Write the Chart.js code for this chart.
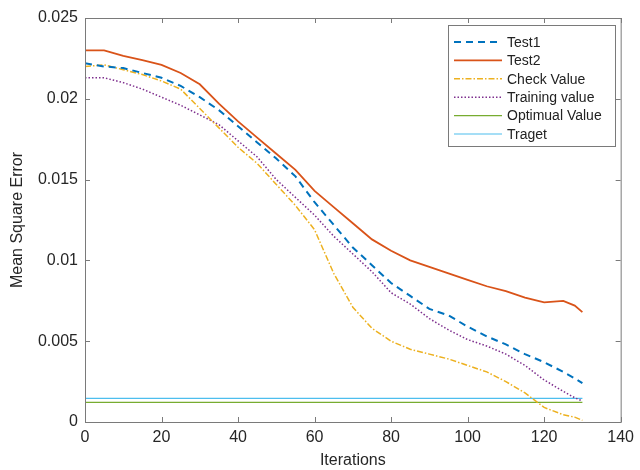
<!DOCTYPE html>
<html>
<head>
<meta charset="utf-8">
<script src="https://cdn.jsdelivr.net/npm/chart.js@4/dist/chart.umd.min.js"></script>
<style>
  html, body { margin: 0; padding: 0; background: #fff; }
  canvas { display: block; }
</style>
</head>
<body>
<canvas id="chart" width="640" height="470"></canvas>
<script>
const iterations = [0, 5, 10, 15, 20, 25, 30, 35, 40, 45, 50, 55, 60, 65, 70, 75, 80, 85, 90, 95, 100, 105, 110, 115, 120, 125, 128, 130];
const test1 = [0.0222, 0.0220, 0.0219, 0.0216, 0.0213, 0.0208, 0.0201, 0.0193, 0.0183, 0.0173, 0.0163, 0.0152, 0.0136, 0.0122, 0.0108, 0.0097, 0.0086, 0.0078, 0.0070, 0.0066, 0.0059, 0.0053, 0.0048, 0.0042, 0.0037, 0.0031, 0.0027, 0.0024];
const test2 = [0.0230, 0.0230, 0.02265, 0.0224, 0.0221, 0.0216, 0.0209, 0.0197, 0.0186, 0.0176, 0.0166, 0.0156, 0.0143, 0.0133, 0.0123, 0.0113, 0.0106, 0.0100, 0.0096, 0.0092, 0.0088, 0.0084, 0.0081, 0.0077, 0.0074, 0.0075, 0.0072, 0.0068];
const checkValue = [0.0220, 0.0221, 0.0218, 0.0215, 0.0211, 0.0206, 0.0194, 0.0182, 0.0170, 0.0160, 0.0147, 0.0134, 0.0119, 0.0092, 0.0071, 0.0058, 0.0050, 0.0045, 0.0042, 0.0039, 0.0035, 0.0031, 0.0025, 0.0018, 0.0009, 0.00045, 0.0003, 0.0001];
const trainingValue = [0.0213, 0.0213, 0.0210, 0.0206, 0.0201, 0.0196, 0.0190, 0.0184, 0.0174, 0.0164, 0.0150, 0.0139, 0.0128, 0.0115, 0.0104, 0.0093, 0.0080, 0.0073, 0.0064, 0.0057, 0.0051, 0.0047, 0.0042, 0.0035, 0.0026, 0.0019, 0.0015, 0.0013];
const flatX = [0, 130];
const optimualValue = [0.00122, 0.00122];
const target = [0.00146, 0.00146];

const xTicks = ["0", "20", "40", "60", "80", "100", "120", "140"];
const yTicks = ["0", "0.005", "0.01", "0.015", "0.02", "0.025"];

const FONT = "'Liberation Sans', Arial, sans-serif";

const toPoints = (xs, ys) => xs.map((x, i) => ({ x: x, y: ys[i] }));

// MATLAB-like box with inward ticks on all four sides
const boxPlugin = {
  id: "box",
  afterDraw(chart) {
    const { ctx, chartArea: a, scales } = chart;
    ctx.save();
    ctx.strokeStyle = "#7a7a7a";
    ctx.lineWidth = 1;
    ctx.strokeRect(a.left + 0.5, a.top + 0.5, a.right - a.left, a.bottom - a.top);
    const t = 5;
    ctx.beginPath();
    scales.x.ticks.forEach((tk) => {
      const px = Math.round(scales.x.getPixelForValue(tk.value)) + 0.5;
      ctx.moveTo(px, a.bottom); ctx.lineTo(px, a.bottom - t);
      ctx.moveTo(px, a.top); ctx.lineTo(px, a.top + t);
    });
    scales.y.ticks.forEach((tk) => {
      const py = Math.round(scales.y.getPixelForValue(tk.value)) + 0.5;
      ctx.moveTo(a.left, py); ctx.lineTo(a.left + t, py);
      ctx.moveTo(a.right, py); ctx.lineTo(a.right - t, py);
    });
    ctx.stroke();
    ctx.restore();
  },
};

// legend drawn inside the plot, top right, framed
const legendPlugin = {
  id: "boxLegend",
  afterDraw(chart) {
    const ctx = chart.ctx;
    const x0 = 448, y0 = 25, w = 167, h = 121;
    const rowH = 18.4;
    ctx.save();
    ctx.fillStyle = "#fff";
    ctx.fillRect(x0, y0, w, h);
    ctx.strokeStyle = "#7a7a7a";
    ctx.lineWidth = 1;
    ctx.strokeRect(x0 + 0.5, y0 + 0.5, w, h);
    ctx.font = "14px " + FONT;
    ctx.textBaseline = "middle";
    chart.data.datasets.forEach((ds, i) => {
      const y = y0 + 17 + i * rowH;
      ctx.strokeStyle = ds.borderColor;
      ctx.lineWidth = ds.borderWidth;
      ctx.setLineDash(ds.borderDash || []);
      ctx.beginPath();
      ctx.moveTo(x0 + 6, y);
      ctx.lineTo(x0 + 54, y);
      ctx.stroke();
      ctx.setLineDash([]);
      ctx.fillStyle = "#222";
      ctx.fillText(ds.label, x0 + 59, y + 1);
    });
    ctx.restore();
  },
};

new Chart(document.getElementById("chart"), {
  type: "line",
  data: {
    datasets: [
      { label: "Test1", data: toPoints(iterations, test1), borderColor: "#0072BD", borderWidth: 2, borderDash: [7, 5] },
      { label: "Test2", data: toPoints(iterations, test2), borderColor: "#D95319", borderWidth: 1.8 },
      { label: "Check Value", data: toPoints(iterations, checkValue), borderColor: "#EDB120", borderWidth: 1.5, borderDash: [6, 2, 1.5, 2] },
      { label: "Training value", data: toPoints(iterations, trainingValue), borderColor: "#7E2F8E", borderWidth: 1.5, borderDash: [1.5, 2] },
      { label: "Optimual Value", data: toPoints(flatX, optimualValue), borderColor: "#77AC30", borderWidth: 1.2 },
      { label: "Traget", data: toPoints(flatX, target), borderColor: "#4DBEEE", borderWidth: 1.2 },
    ],
  },
  options: {
    responsive: false,
    animation: false,
    layout: { padding: { top: 18, right: 13, left: 0, bottom: 0 } },
    elements: { point: { radius: 0 }, line: { tension: 0, fill: false } },
    plugins: { legend: { display: false }, tooltip: { enabled: false } },
    scales: {
      x: {
        type: "linear",
        min: 0,
        max: 140,
        grid: { display: false, drawTicks: false },
        border: { display: false },
        ticks: {
          stepSize: 20,
          padding: 6,
          color: "#262626",
          font: { family: FONT, size: 16 },
          callback: (v) => xTicks[v / 20],
        },
        title: { display: true, text: "Iterations", color: "#262626", font: { family: FONT, size: 16 }, padding: { top: 0, bottom: 0 } },
        afterFit: (s) => { s.height = 48; },
      },
      y: {
        min: 0,
        max: 0.025,
        grid: { display: false, drawTicks: false },
        border: { display: false },
        ticks: {
          stepSize: 0.005,
          padding: 7,
          color: "#262626",
          font: { family: FONT, size: 16 },
          callback: (v) => yTicks[Math.round(v / 0.005)],
        },
        title: { display: true, text: "Mean Square Error", color: "#262626", font: { family: FONT, size: 16 }, padding: { top: 8, bottom: 0 } },
        afterFit: (s) => { s.width = 85; },
      },
    },
  },
  plugins: [boxPlugin, legendPlugin],
});
</script>
</body>
</html>
